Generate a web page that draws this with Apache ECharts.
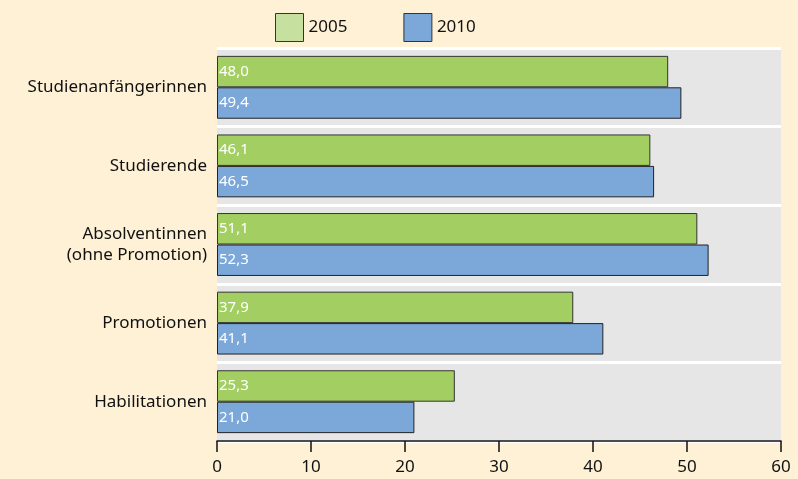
<!DOCTYPE html>
<html>
<head>
<meta charset="utf-8">
<script src="https://cdn.jsdelivr.net/npm/echarts@6/dist/echarts.min.js"></script>
<style>
  html, body { margin: 0; padding: 0; background: #fef1d6; }
  #chart { width: 798px; height: 479px; }
</style>
</head>
<body>
<div id="chart"></div>
<script>
// data
var categories = ['Studienanfängerinnen', 'Studierende', 'Absolventinnen\n(ohne Promotion)', 'Promotionen', 'Habilitationen'];
var values2005 = [48.0, 46.1, 51.1, 37.9, 25.3];
var values2010 = [49.4, 46.5, 52.3, 41.1, 21.0];
var xTicks = [0, 10, 20, 30, 40, 50, 60];

var font = 'Noto Sans';
var myChart = echarts.init(document.getElementById('chart'));

function labelFmt(p) {
  return p.value.toFixed(1).replace('.', ',');
}

var option = {
  backgroundColor: '#fef1d6',
  textStyle: { fontFamily: font },
  legend: {
    top: 8,
    left: 270,
    icon: 'rect',
    itemWidth: 28,
    itemHeight: 28,
    itemGap: 56,
    textStyle: { fontSize: 17, color: '#111', fontFamily: font },
    data: [
      { name: '2005', itemStyle: { color: '#c6e0a0', borderColor: '#333', borderWidth: 1 } },
      { name: '2010', itemStyle: { color: '#7ba7d9', borderColor: '#333', borderWidth: 1 } }
    ]
  },
  grid: {
    left: 217, right: 17, top: 48, bottom: 38,
    show: true, backgroundColor: '#e6e6e6', borderWidth: 0
  },
  xAxis: {
    type: 'value',
    min: xTicks[0],
    max: xTicks[xTicks.length - 1],
    interval: 10,
    axisLine: { show: true, lineStyle: { color: '#111', width: 1.5 } },
    axisTick: { show: true, length: 11, lineStyle: { color: '#111', width: 1.5 } },
    axisLabel: { fontSize: 17, color: '#111', margin: 18, fontFamily: font },
    splitLine: { show: false }
  },
  yAxis: {
    type: 'category',
    inverse: true,
    data: categories,
    axisLine: { show: false },
    axisTick: { show: false },
    axisLabel: { fontSize: 17, color: '#111', margin: 10, lineHeight: 21, fontFamily: font },
    splitLine: { show: true, lineStyle: { color: '#ffffff', width: 3 } }
  },
  series: [
    {
      name: '2005',
      type: 'bar',
      data: values2005,
      barGap: '0%',
      barCategoryGap: '20%',
      itemStyle: { color: '#a3cf62', borderColor: '#333', borderWidth: 1 },
      label: { show: true, position: 'insideLeft', offset: [-3, 0], color: '#fff', fontSize: 15, formatter: labelFmt, fontFamily: font }
    },
    {
      name: '2010',
      type: 'bar',
      data: values2010,
      barGap: '0%',
      barCategoryGap: '20%',
      itemStyle: { color: '#7ba7d9', borderColor: '#222', borderWidth: 1 },
      label: { show: true, position: 'insideLeft', offset: [-3, 0], color: '#fff', fontSize: 15, formatter: labelFmt, fontFamily: font }
    }
  ]
};

myChart.setOption(option);
</script>
</body>
</html>
